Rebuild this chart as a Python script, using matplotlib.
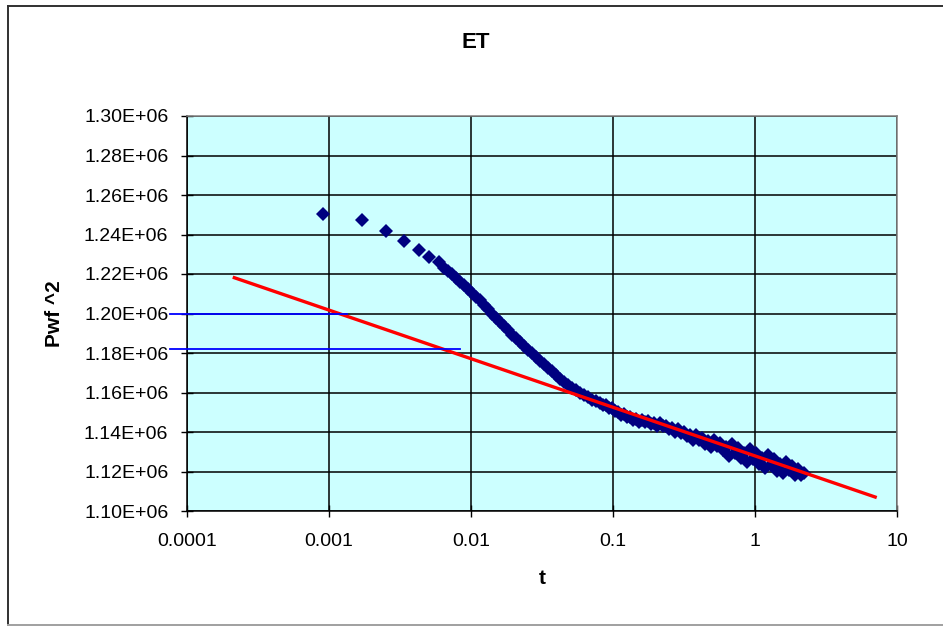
"""ET plot: Pwf^2 vs log t with semilog trend line (Excel-style look)."""
import numpy as np
import matplotlib
matplotlib.use("Agg")
import matplotlib.pyplot as plt
from matplotlib.lines import Line2D
from matplotlib.ticker import FixedLocator, FuncFormatter, NullLocator

plt.rcParams["font.family"] = ["Liberation Sans", "DejaVu Sans"]

# measured points, t in hours, Pwf^2 in thousands
t = [
    0.000912, 0.00170, 0.00252, 0.00339, 0.00428, 0.00504, 0.00598,
    0.00645, 0.00689, 0.00735, 0.00784, 0.00837, 0.00893, 0.00953, 0.01017,
    0.01085, 0.01157, 0.01235, 0.01318, 0.01406, 0.01500, 0.01600, 0.01708,
    0.01822, 0.01944, 0.02074, 0.02214, 0.02362, 0.02520, 0.02689, 0.02869,
    0.03061, 0.03266, 0.03485, 0.03719, 0.03968, 0.04233, 0.04517, 0.04820,
    0.05142, 0.05487, 0.05855, 0.06247, 0.06665, 0.07112, 0.07588, 0.08101,
    0.08506, 0.08930, 0.09375, 0.09842, 0.10333, 0.10848, 0.11389, 0.11957,
    0.12553, 0.13179, 0.13836, 0.14526, 0.15250, 0.16010, 0.16808, 0.17646,
    0.18526, 0.19450, 0.20420, 0.21438, 0.22507, 0.23629, 0.24807, 0.26044,
    0.27342, 0.28705, 0.30136, 0.31639, 0.33216, 0.34872, 0.36611, 0.38436,
    0.40352, 0.42364, 0.44476, 0.46693, 0.49021, 0.51465, 0.54031, 0.56725,
    0.59553, 0.62522, 0.65639, 0.68911, 0.72347, 0.75954, 0.79740, 0.83716,
    0.87890, 0.92271, 0.96871, 1.01700, 1.06771, 1.12094, 1.17682, 1.23549,
    1.29709, 1.36175, 1.42964, 1.50092, 1.57574, 1.65430, 1.73678, 1.82336,
    1.91426, 2.00970, 2.10989, 2.21508,
]
pwf2_k = [
    1250.2, 1247.2, 1241.8, 1236.5, 1232.3, 1228.6, 1226.0,
    1223.2, 1221.6, 1220.0, 1218.1, 1216.2, 1214.2, 1212.2, 1210.3,
    1208.4, 1206.6, 1204.4, 1202.1, 1199.8, 1197.8, 1195.9, 1193.7,
    1191.5, 1189.3, 1187.4, 1185.5, 1183.6, 1181.7, 1179.9, 1178.0,
    1176.1, 1174.3, 1172.5, 1170.7, 1168.8, 1167.0, 1165.4, 1163.8,
    1162.3, 1161.1, 1159.9, 1158.7, 1157.5, 1156.4, 1155.6, 1154.8,
    1153.6, 1153.8, 1152.4, 1152.0, 1150.4, 1150.0, 1148.4, 1149.0,
    1147.6, 1147.6, 1146.2, 1146.4, 1145.1, 1146.2, 1144.9, 1145.4,
    1144.0, 1144.4, 1143.2, 1144.4, 1142.9, 1143.2, 1141.7, 1141.9,
    1140.1, 1141.5, 1139.6, 1140.0, 1137.9, 1138.3, 1135.7, 1138.6,
    1135.7, 1137.0, 1133.9, 1135.2, 1132.3, 1135.9, 1132.8, 1134.4,
    1130.8, 1132.2, 1128.1, 1133.7, 1129.3, 1131.9, 1126.9, 1129.4,
    1124.8, 1131.5, 1126.4, 1129.5, 1123.7, 1126.7, 1121.8, 1128.3,
    1123.1, 1126.2, 1120.5, 1123.6, 1119.3, 1125.0, 1120.6, 1123.0,
    1118.3, 1121.2, 1118.1, 1119.0,
]

# semilog trend line end points
trend_t = [2.1e-4, 7.2]
trend_p = [1218400, 1106800]

# horizontal read-off lines
read_p = [1199500, 1182000]
read_t0 = 7.6e-5
read_t1 = [1.33e-3, 8.37e-3]

x_ticks = [0.0001, 0.001, 0.01, 0.1, 1, 10]
x_labels = ["0.0001", "0.001", "0.01", "0.1", "1", "10"]
y_ticks = np.arange(1.10e6, 1.30e6 + 1, 0.02e6)

W, H = 943, 628


def main():
    fig = plt.figure(figsize=(W / 100, H / 100), dpi=100)
    fig.patch.set_facecolor("white")
    ax = fig.add_axes([187 / W, 1 - 511 / H, 710 / W, 395 / H])
    ax.set_facecolor("#CCFFFF")

    pwf2 = np.array(pwf2_k) * 1e3
    ax.plot(t, pwf2, "D", color="#000080", ms=7.6, mew=0, zorder=3)
    ax.plot(trend_t, trend_p, color="#FF0000", lw=2.4, zorder=4,
            solid_capstyle="butt")
    for p, t1 in zip(read_p, read_t1):
        ax.plot([read_t0, t1], [p, p], color="#0000FF", lw=1.3, zorder=5,
                clip_on=False)

    ax.set_xscale("log")
    ax.set_xlim(x_ticks[0], x_ticks[-1])
    ax.set_ylim(y_ticks[0], y_ticks[-1])
    ax.xaxis.set_major_locator(FixedLocator(x_ticks))
    ax.xaxis.set_minor_locator(NullLocator())
    ax.set_xticklabels(x_labels)
    ax.yaxis.set_major_locator(FixedLocator(y_ticks))
    ax.yaxis.set_major_formatter(FuncFormatter(lambda v, _: f"{v:.2E}"))

    ax.grid(True, color="black", lw=1.1)
    ax.set_axisbelow(True)
    ax.tick_params(direction="inout", length=9, width=1, labelsize=14,
                   colors="black")
    ax.tick_params(axis="x", pad=11)
    ax.tick_params(axis="y", pad=9)
    for s in ("left", "bottom"):
        ax.spines[s].set_color("black")
        ax.spines[s].set_linewidth(1.1)
    for s in ("top", "right"):
        ax.spines[s].set_color("#808080")
        ax.spines[s].set_linewidth(1.1)

    ax.set_xlabel("t", fontsize=15, fontweight="bold", labelpad=14)
    ax.set_ylabel("Pwf ^2", fontsize=15, fontweight="bold", labelpad=14)
    fig.text(476 / W, 1 - 48 / H, "ET", ha="center", va="baseline",
             fontsize=16, fontweight="bold")

    # chart-area frame
    fig.add_artist(Line2D([8 / W, 8 / W], [1 - 6 / H, 1 - 625 / H],
                          transform=fig.transFigure, color="#303030", lw=1.4))
    fig.add_artist(Line2D([8 / W, 1.0], [1 - 6 / H, 1 - 6 / H],
                          transform=fig.transFigure, color="#303030", lw=1.4))
    fig.add_artist(Line2D([8 / W, 1.0], [1 - 625 / H, 1 - 625 / H],
                          transform=fig.transFigure, color="#A0A0A0", lw=1.4))

    fig.savefig("out.png", dpi=100)
    plt.close(fig)


if __name__ == "__main__":
    main()
